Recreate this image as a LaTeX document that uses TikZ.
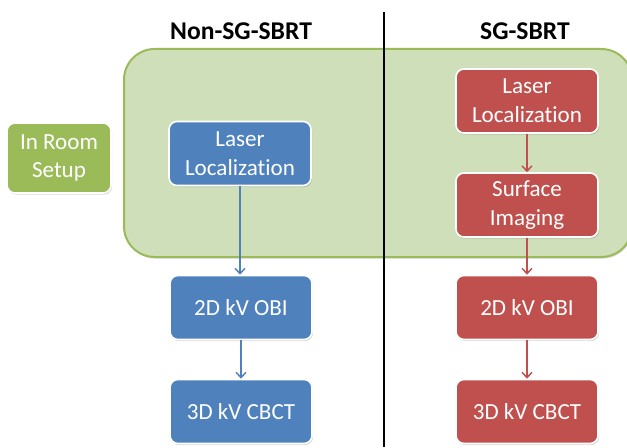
\documentclass[tikz,border=0pt]{standalone}
\usepackage{fontspec}
\setmainfont[Ligatures=NoCommon]{Carlito}
\usetikzlibrary{arrows.meta,shadows}
\definecolor{bluebox}{RGB}{79,129,189}
\definecolor{redbox}{RGB}{192,80,77}
\definecolor{greenbox}{RGB}{155,187,89}
\definecolor{greenfill}{RGB}{206,223,186}
\begin{document}
\begin{tikzpicture}[x=0.75pt,y=0.75pt,
    stage/.style={rectangle,rounded corners=6pt,draw=white,line width=1.2pt,text=white,align=center,
        minimum width=106.5pt,minimum height=48pt,inner sep=2pt,
        font=\fontsize{17.3}{21.5}\selectfont,
        drop shadow={shadow xshift=.8pt,shadow yshift=-1.2pt,opacity=.3}},
    flow/.style={line width=1.1pt,-{Straight Barb[length=4pt,width=7.5pt]}},
    heading/.style={anchor=base,font=\fontsize{19.2}{23}\selectfont\bfseries}]
    \useasboundingbox (0,0) rectangle (627,447);
    \draw[greenbox,line width=1.5pt,fill=greenfill,rounded corners=23pt,
        drop shadow={shadow xshift=.8pt,shadow yshift=-1.2pt,opacity=.3}] (124,190) rectangle (632,398);
    \draw[line width=1.5pt] (384,435) -- (384,0);
    \node[heading] (nonsg) at (241,407) {Non-SG-SBRT};
    \node[heading] (sg) at (525,407) {SG-SBRT};
    \node[stage,fill=greenbox,minimum width=78pt,minimum height=52.5pt] (room) at (59,289) {In Room\\Setup};
    \node[stage,fill=bluebox] (laserA) at (240,293.5) {Laser\\Localization};
    \node[stage,fill=bluebox] (obiA) at (241,139.5) {2D kV OBI};
    \node[stage,fill=bluebox] (cbctA) at (241,35.5) {3D kV CBCT};
    \node[stage,fill=redbox] (laserB) at (527,346) {Laser\\Localization};
    \node[stage,fill=redbox] (surfB) at (527,242) {Surface\\Imaging};
    \node[stage,fill=redbox] (obiB) at (527,139.5) {2D kV OBI};
    \node[stage,fill=redbox] (cbctB) at (527,35.5) {3D kV CBCT};
    \draw[flow,bluebox] (laserA) -- (laserA |- obiA.north);
    \draw[flow,bluebox] (obiA) -- (cbctA);
    \draw[flow,redbox] (laserB) -- (surfB);
    \draw[flow,redbox] (surfB) -- (obiB);
    \draw[flow,redbox] (obiB) -- (cbctB);
\end{tikzpicture}
\end{document}
